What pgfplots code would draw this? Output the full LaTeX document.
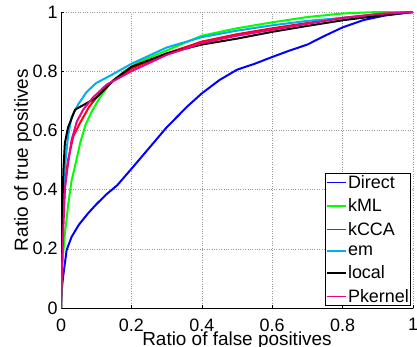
\documentclass[border=0pt]{standalone}
\usepackage{fontspec}
\setmainfont{Liberation Sans}
\usepackage{pgfplots}
\pgfplotsset{compat=1.18}
\begin{document}
\begin{tikzpicture}
\useasboundingbox (-61bp,-39bp) rectangle (356bp,308bp);
\begin{axis}[
  scale only axis,
  width=352bp, height=296bp,
  xmin=0, xmax=1, ymin=0, ymax=1,
  xtick={0,0.2,0.4,0.6,0.8,1},
  ytick={0,0.2,0.4,0.6,0.8,1},
  axis x line*=bottom, axis y line*=left,
  axis line style={-, line width=0.6pt},
  tick align=inside, major tick length=3bp,
  tick style={line width=0.5pt, black},
  grid=major,
  grid style={dotted, gray!80, line width=0.6pt},
  /pgf/number format/assume math mode=true,
  ticklabel style={font=\fontsize{18}{20}\selectfont},
  label style={font=\fontsize{19}{21}\selectfont},
  xlabel={Ratio of false positives},
  ylabel={Ratio of true positives},
  xlabel style={yshift=6bp},
  ylabel style={yshift=-6bp},
  xticklabel style={yshift=-7bp},
  legend cell align=left,
  legend style={at={(0.995,0.006)}, anchor=south east,
    font=\fontsize{18}{20}\selectfont, draw=black, line width=0.8pt,
    inner sep=1pt, row sep=7bp,
    nodes={inner sep=1bp}},
  legend image code/.code={\draw[#1, line width=1.8pt] (0bp,0bp) -- (19bp,0bp);},
  every axis plot/.append style={line width=2pt},
]
\addplot[blue] coordinates {
(0,0) (0.002,0.06) (0.006,0.105) (0.016,0.196) (0.03,0.24) (0.05,0.28)
(0.077,0.32) (0.1,0.35) (0.13,0.385) (0.16,0.415) (0.2,0.47) (0.25,0.54)
(0.3,0.61) (0.358,0.68) (0.4,0.725) (0.45,0.77) (0.5,0.805) (0.55,0.825)
(0.6,0.848) (0.65,0.87) (0.7,0.89) (0.75,0.92) (0.8,0.948) (0.86,0.973)
(0.92,0.988) (1,1)};
\addlegendentry{Direct}
\addplot[green] coordinates {
(0,0) (0.004,0.15) (0.011,0.25) (0.021,0.355) (0.03,0.43) (0.04,0.48)
(0.055,0.56) (0.07,0.62) (0.09,0.67) (0.11,0.71) (0.14,0.76) (0.18,0.8)
(0.22,0.83) (0.3,0.87) (0.4,0.92) (0.5,0.945) (0.6,0.965) (0.7,0.983)
(0.8,0.995) (0.9,1) (1,1)};
\addlegendentry{kML}
\addplot[red] coordinates {
(0,0) (0.002,0.15) (0.006,0.3) (0.012,0.43) (0.02,0.5) (0.035,0.58)
(0.054,0.625) (0.08,0.68) (0.11,0.725) (0.15,0.77) (0.2,0.808) (0.3,0.86)
(0.4,0.9) (0.5,0.925) (0.6,0.945) (0.7,0.963) (0.8,0.98) (0.9,0.993) (1,1)};
\addlegendentry{kCCA}
\addplot[cyan] coordinates {
(0,0) (0.002,0.2) (0.007,0.4) (0.013,0.5) (0.02,0.58) (0.03,0.645)
(0.05,0.69) (0.073,0.73) (0.1,0.76) (0.14,0.785) (0.2,0.825) (0.3,0.88)
(0.4,0.915) (0.5,0.937) (0.6,0.955) (0.7,0.97) (0.8,0.98) (0.9,0.99) (1,1)};
\addlegendentry{em}
\addplot[black] coordinates {
(0,0) (0.001,0.2) (0.004,0.35) (0.007,0.47) (0.011,0.557) (0.02,0.61)
(0.04,0.67) (0.07,0.69) (0.1,0.71) (0.15,0.77) (0.2,0.815) (0.3,0.86)
(0.4,0.89) (0.5,0.91) (0.6,0.933) (0.7,0.953) (0.8,0.972) (0.9,0.987) (1,1)};
\addlegendentry{local}
\addplot[magenta] coordinates {
(0,0) (0.002,0.1) (0.006,0.25) (0.011,0.4) (0.018,0.47) (0.03,0.567)
(0.045,0.63) (0.063,0.67) (0.09,0.71) (0.13,0.755) (0.2,0.8) (0.3,0.855)
(0.4,0.895) (0.5,0.92) (0.6,0.94) (0.7,0.96) (0.8,0.98) (0.9,0.993) (1,1)};
\addlegendentry{Pkernel}
\end{axis}
\end{tikzpicture}
\end{document}
